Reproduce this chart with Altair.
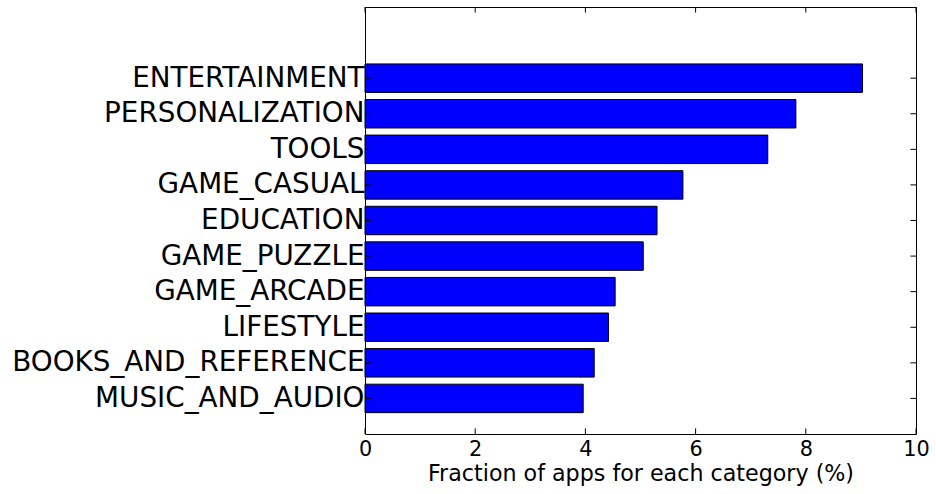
import altair as alt
import pandas as pd

# Top ten app categories and their share of all apps (%)
categories = [
    "ENTERTAINMENT",
    "PERSONALIZATION",
    "TOOLS",
    "GAME_CASUAL",
    "EDUCATION",
    "GAME_PUZZLE",
    "GAME_ARCADE",
    "LIFESTYLE",
    "BOOKS_AND_REFERENCE",
    "MUSIC_AND_AUDIO",
]
fractions = [9.03, 7.82, 7.31, 5.77, 5.30, 5.05, 4.54, 4.42, 4.16, 3.96]
x_ticks = [0, 2, 4, 6, 8, 10]

n = len(categories)
# bar slots counted from the bottom: last category sits at 1, first at n
bars = pd.DataFrame({
    "category": categories,
    "fraction": fractions,
    "slot": [n - i for i in range(n)],
})
slots = pd.DataFrame({"slot": list(range(1, n + 1))})
xticks = pd.DataFrame({"x": x_ticks})

label_lookup = "[''," + ",".join("'%s'" % c for c in reversed(categories)) + "]"

W, H = 551, 427
TICK = 5.6
FONT = "DejaVu Sans"

x_scale = alt.Scale(domain=[0, 10], nice=False, zero=False)
y_scale = alt.Scale(domain=[0, n + 2], nice=False, zero=False)

bar_layer = alt.Chart(bars).transform_calculate(
    lo="datum.slot - 0.4", hi="datum.slot + 0.4"
).mark_bar(color="#0000ff", stroke="black", strokeWidth=1).encode(
    x=alt.X(
        "fraction:Q",
        scale=x_scale,
        axis=alt.Axis(
            values=x_ticks,
            title="Fraction of apps for each category (%)",
            titleFont=FONT,
            titleFontSize=22.2,
            titleFontWeight="normal",
            titleColor="black",
            titlePadding=4,
            labelFont=FONT,
            labelFontSize=20.8,
            labelColor="black",
            labelFlush=False,
            labelPadding=5,
            ticks=False,
            domain=False,
            grid=False,
        ),
    ),
    x2=alt.value(0),
    y=alt.Y(
        "lo:Q",
        scale=y_scale,
        axis=alt.Axis(
            values=list(range(1, n + 1)),
            labelExpr=label_lookup + "[datum.value]",
            title=None,
            labelFont=FONT,
            labelFontSize=27.8,
            labelColor="black",
            labelPadding=1,
            labelLimit=0,
            labelOverlap=False,
            ticks=False,
            domain=False,
            grid=False,
        ),
    ),
    y2="hi:Q",
)

# inward-facing tick marks on all four sides of the frame
xt_bottom = alt.Chart(xticks).mark_rule(color="black", strokeWidth=1).encode(
    x=alt.X("x:Q", scale=x_scale), y=alt.value(H), y2=alt.value(H - TICK)
)
xt_top = alt.Chart(xticks).mark_rule(color="black", strokeWidth=1).encode(
    x=alt.X("x:Q", scale=x_scale), y=alt.value(0), y2=alt.value(TICK)
)
yt_left = alt.Chart(slots).mark_rule(color="black", strokeWidth=1).encode(
    y=alt.Y("slot:Q", scale=y_scale), x=alt.value(0), x2=alt.value(TICK)
)
yt_right = alt.Chart(slots).mark_rule(color="black", strokeWidth=1).encode(
    y=alt.Y("slot:Q", scale=y_scale), x=alt.value(W), x2=alt.value(W - TICK)
)

chart = alt.layer(bar_layer, xt_bottom, xt_top, yt_left, yt_right).properties(
    width=W,
    height=H,
    autosize=alt.AutoSizeParams(type="none"),
    padding={"left": 365, "top": 7, "right": 20, "bottom": 60},
    background="white",
).configure_view(stroke="black", strokeWidth=1)

chart.save("out.html", embed_options={"renderer": "svg", "actions": False})
